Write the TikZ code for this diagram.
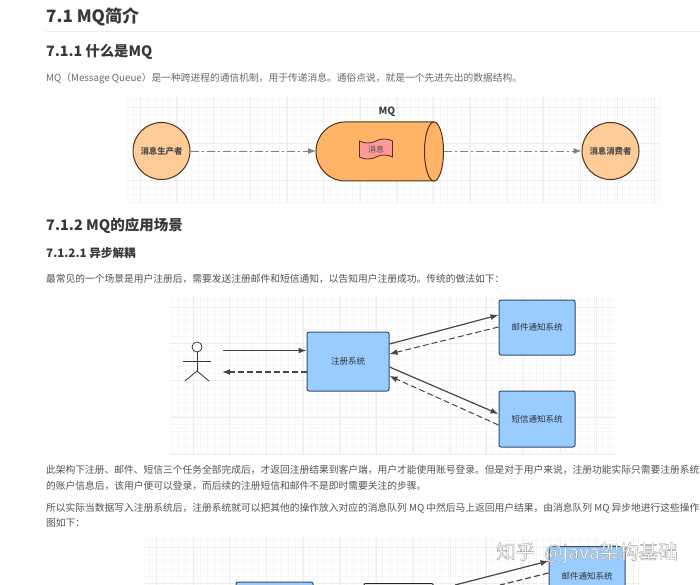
\documentclass[tikz,border=0pt]{standalone}
\usepackage{fontspec}
\setmainfont{Noto Sans CJK SC}
\usetikzlibrary{arrows.meta,shapes.symbols,calc}

\definecolor{boxblue}{HTML}{99CCFF}
\definecolor{boxedge}{HTML}{2F4F6F}
\definecolor{mqorange}{HTML}{FFB366}
\definecolor{roundorange}{HTML}{FFCC99}
\definecolor{brownedge}{HTML}{4D3319}
\definecolor{msgred}{HTML}{FF9999}

\tikzset{heading/.style={anchor=west,inner sep=0pt,text=black!78}}
\tikzset{para/.style={anchor=west,inner sep=0pt,font=\fontsize{9.75}{11}\selectfont,text=black!68}}
\tikzset{line/.style={draw=black!72,line width=1.2pt}}
\tikzset{solidarrow/.style={line,-{Latex[length=8pt,width=6pt]}}}
\tikzset{dasharrow/.style={line,dash pattern=on 6pt off 3pt,-{Latex[length=8pt,width=6pt]}}}
\tikzset{flowarrow/.style={draw=black!50,line width=0.9pt,dash pattern=on 8pt off 3pt on 2pt off 3pt,-{Latex[length=8pt,width=6pt]}}}
\tikzset{round/.style={circle,draw=brownedge,line width=1pt,fill=roundorange,minimum width=57pt,inner sep=0pt,font=\bfseries\fontsize{8.4}{9}\selectfont,text=black!70}}
\tikzset{system/.style={rectangle,rounded corners=2pt,draw=boxedge,line width=1pt,fill=boxblue,inner sep=0pt,font=\fontsize{8.5}{9}\selectfont,text=black!80}}
\tikzset{minor/.style={draw=black!3,line width=0.4pt}}
\tikzset{major/.style={draw=black!7,line width=0.5pt}}
\tikzset{watermark/.style={anchor=west,inner sep=0pt,font=\fontsize{19.5}{21}\selectfont}}

\newcommand{\outlined}[1]{\special{pdf:code 2 Tr 0.35 w 0.6 G 1 g}#1\special{pdf:code 0 Tr}}

\begin{document}
\begin{tikzpicture}[x=1pt,y=-1pt]
\useasboundingbox (0,0) rectangle (700,585);
\fill[white] (0,0) rectangle (700,585);

% headings and text
\node[heading,font=\bfseries\fontsize{17}{19}\selectfont] (h1) at (46,17) {7.1 MQ简介};
\draw[draw=black!8] (46,31) -- (700,31);
\node[heading,font=\bfseries\fontsize{14.3}{16}\selectfont] (h2) at (46,52) {7.1.1 什么是MQ};
\node[para,text=black!58] (p1) at (46,79) {MQ（Message Queue）是一种跨进程的通信机制，用于传递消息。通俗点说，就是一个先进先出的数据结构。};
\node[heading,font=\bfseries\fontsize{14.5}{16}\selectfont] (h3) at (46,225.5) {7.1.2 MQ的应用场景};
\node[heading,font=\bfseries\fontsize{11.6}{13}\selectfont] (h4) at (46,253) {7.1.2.1 异步解耦};
\node[para] (p2) at (46,279) {最常见的一个场景是用户注册后，需要发送注册邮件和短信通知，以告知用户注册成功。传统的做法如下：};
\node[para] (p3) at (46,470) {此架构下注册、邮件、短信三个任务全部完成后，才返回注册结果到客户端，用户才能使用账号登录。但是对于用户来说，注册功能实际只需要注册系统};
\node[para] (p4) at (46,486) {的账户信息后，该用户便可以登录，而后续的注册短信和邮件不是即时需要关注的步骤。};
\node[para] (p5) at (46,508) {所以实际当数据写入注册系统后，注册系统就可以把其他的操作放入对应的消息队列 MQ 中然后马上返回用户结果，由消息队列 MQ 异步地进行这些操作};
\node[para] (p6) at (46,523) {图如下：};

% first grid
\foreach \x in {125.8,133.1,...,660} {\draw[minor] (\x,97) -- (\x,203);}
\foreach \y in {99.7,107,...,203} {\draw[minor] (127,\y) -- (660,\y);}
\foreach \x in {140,176.7,...,660} {\draw[major] (\x,97) -- (\x,203);}
\foreach \y in {107,143.5,...,203} {\draw[major] (127,\y) -- (660,\y);}

% second grid
\foreach \x in {171,178.3,...,616} {\draw[minor] (\x,295) -- (\x,454);}
\foreach \y in {299.7,307,...,454} {\draw[minor] (170,\y) -- (616,\y);}
\foreach \x in {193,229.7,...,616} {\draw[major] (\x,295) -- (\x,454);}
\foreach \y in {307,343.7,...,454} {\draw[major] (170,\y) -- (616,\y);}

% third grid
\foreach \x in {149,156.3,...,640} {\draw[minor] (\x,537) -- (\x,585);}
\foreach \y in {539.7,547,...,585} {\draw[minor] (144,\y) -- (640,\y);}
\foreach \x in {156.3,193,...,640} {\draw[major] (\x,537) -- (\x,585);}
\foreach \y in {547,583.7} {\draw[major] (144,\y) -- (640,\y);}

% first diagram
\node[round] (producer) at (161.5,151) {消息生产者};
\node[round] (consumer) at (610.5,151) {消息消费者};
\node[font=\bfseries\fontsize{10}{11}\selectfont,text=black!75] (mqlabel) at (387,112) {MQ};
\path[draw=brownedge,line width=1pt,fill=mqorange] (434,122) -- (345,122) arc[start angle=-90,end angle=-270,x radius=29,y radius=29.5] -- (434,181);
\path[draw=brownedge,line width=1pt,fill=mqorange] (434,151.5) ellipse[x radius=9.5,y radius=29.5];
\coordinate (mqleft) at (316,151);
\coordinate (mqright) at (444,151);
\node[tape,draw=brownedge,line width=0.8pt,fill=msgred,minimum width=33pt,minimum height=20pt,inner sep=0pt,tape bend height=4pt,font=\fontsize{8}{9}\selectfont,text=black!70] (msg) at (376,149) {消息};
\draw[flowarrow] (producer) -- (mqleft);
\draw[flowarrow] (mqright) -- (consumer);

% second diagram
\node[system,minimum width=82pt,minimum height=59pt] (reg) at (348,361.5) {注册系统};
\node[system,minimum width=76pt,minimum height=55pt] (mail) at (537,327.5) {邮件通知系统};
\node[system,minimum width=76pt,minimum height=56pt] (sms) at (537,419) {短信通知系统};

\node[circle,draw=black!80,line width=0.8pt,fill=white,minimum width=10pt,inner sep=0pt] (head) at (197,347) {};
\coordinate (body) at (197,371);
\coordinate (armleft) at (183,361);
\coordinate (armright) at (211,361);
\coordinate (legleft) at (185,381);
\coordinate (legright) at (209,381);
\draw[line width=0.8pt,draw=black!80] (head) -- (body);
\draw[line width=0.8pt,draw=black!80] (armleft) -- (armright);
\draw[line width=0.8pt,draw=black!80] (legleft) -- (body) -- (legright);
\coordinate (actorout) at (223,350.5);
\coordinate (actorin) at (222,372);
\draw[solidarrow] (actorout) -- (reg.west |- actorout);
\draw[dasharrow] (reg.west |- actorin) -- (actorin);

\coordinate (a1) at (reg.east |- 0,344);
\coordinate (a2) at (reg.east |- 0,354);
\coordinate (a3) at (reg.east |- 0,367);
\coordinate (a4) at (reg.east |- 0,376);
\draw[solidarrow] (a1) -- (mail.west |- 0,315);
\draw[dasharrow,line width=1pt] (mail.west |- 0,327) -- (a2);
\draw[solidarrow] (a3) -- (sms.west |- 0,414);
\draw[dasharrow,line width=1pt] (sms.west |- 0,425) -- (a4);

% third diagram
\begin{scope}
\clip (0,0) rectangle (700,585);
\node[system,minimum width=77pt,minimum height=50pt,anchor=north] (reg2) at (274.5,581.5) {};
\node[draw=black!85,line width=1pt,fill=white,rounded corners=1pt,minimum width=69pt,minimum height=40pt,anchor=north,inner sep=0pt] (mq2) at (398.5,583) {};
\node[system,minimum width=76pt,minimum height=60pt,anchor=north] (mail2) at (587,546) {邮件通知系统};
\coordinate (mqout) at (455,585);
\coordinate (mqin) at (500,585);
\draw[solidarrow] (mqout) -- (mail2.west |- 0,561);
\draw[line,dash pattern=on 6pt off 3pt] (mail2.west |- 0,573) -- (mqin);
\end{scope}

% watermark
\node[watermark] (java) at (496,553) {\outlined{知乎\hspace{9pt}@java架构基础}};
\end{tikzpicture}
\end{document}
